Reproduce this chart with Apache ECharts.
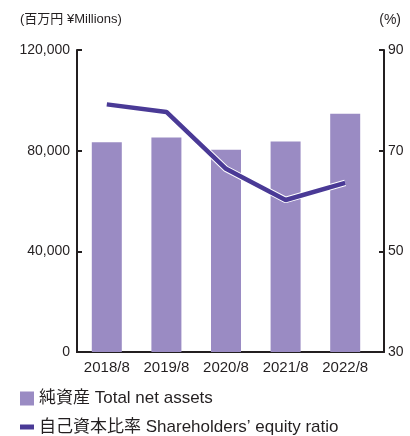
<!DOCTYPE html>
<html><head><meta charset="utf-8">
<script src="https://cdn.jsdelivr.net/npm/echarts@6/dist/echarts.min.js"></script>
<style>html,body{margin:0;padding:0;background:#fff}#c{width:410px;height:436px}</style>
</head><body><div id="c"></div>
<script>
const categories = ['2018/8','2019/8','2020/8','2021/8','2022/8'];
const netAssets = [83300, 85200, 80400, 83600, 94700];
const equityRatio = [79.2, 77.7, 66.4, 60.2, 63.6];
const leftTicks = [0, 40000, 80000, 120000];
const rightTicks = [30, 50, 70, 90];
const barName = '純資産 Total net assets';
const lineName = '自己資本比率 Shareholders’ equity ratio';

const FONT = '"Liberation Sans", "Noto Sans CJK JP", sans-serif';
const chart = echarts.init(document.getElementById('c'), null, {renderer:'canvas'});
const axisLine = {show:true, lineStyle:{color:'#231f20', width:2}};
const tick = {show:true, inside:true, length:5, lineStyle:{color:'#231f20', width:2}};
const legendText = {fontSize:17, color:'#231f20', fontFamily:FONT, lineHeight:18};
chart.setOption({
  animation:false,
  textStyle:{fontFamily:FONT},
  graphic:[
    {type:'text', left:20, top:13, style:{text:'(百万円 ¥Millions)', fontSize:13, fill:'#231f20', fontFamily:FONT}},
    {type:'text', right:9, top:13, style:{text:'(%)', fontSize:14, fill:'#231f20', fontFamily:FONT}}
  ],
  legend:[
    {left:20, top:389.5, padding:0, itemWidth:14, itemHeight:14, textStyle:legendText,
     data:[{name:barName, icon:'rect'}]},
    {left:20, top:418, padding:0, itemWidth:14, itemHeight:14, textStyle:legendText,
     data:[{name:lineName, icon:'path://M0,0h14v5h-14z'}]}
  ],
  grid:[
    {left:77, right:35, top:50, bottom:84},
    {left:77, right:26, top:50, bottom:84}
  ],
  xAxis:[
    {type:'category', gridIndex:0, data:categories, axisLine:{show:true, lineStyle:{color:'#231f20', width:2}},
     axisTick:{show:false}, axisLabel:{fontSize:15, color:'#231f20', margin:8, interval:0, fontFamily:FONT}},
    {type:'category', gridIndex:1, data:[''], axisLine:{show:true, lineStyle:{color:'#231f20', width:2}},
     axisTick:{show:false}, axisLabel:{show:false}}
  ],
  yAxis:[
    {type:'value', gridIndex:0, position:'left', min:leftTicks[0], max:leftTicks[leftTicks.length-1], interval:40000,
     axisLine:axisLine, axisTick:tick, splitLine:{show:false},
     axisLabel:{fontSize:14, color:'#231f20', margin:7, fontFamily:FONT,
       formatter:v=>v.toLocaleString('en-US')}},
    {type:'value', gridIndex:0, position:'right', offset:9, min:rightTicks[0], max:rightTicks[rightTicks.length-1], interval:20,
     axisLine:axisLine, axisTick:tick, splitLine:{show:false},
     axisLabel:{fontSize:14, color:'#231f20', margin:4, fontFamily:FONT}},
    {type:'value', gridIndex:1, show:false, min:0, max:1}
  ],
  series:[
    {name:barName, type:'bar', xAxisIndex:0, yAxisIndex:0, data:netAssets, barWidth:30,
     itemStyle:{color:'#9a8bc3'}},
    {name:'outline', type:'line', xAxisIndex:0, yAxisIndex:1, data:equityRatio, symbol:'none',
     lineStyle:{color:'#ffffff', width:6.5}, z:3, silent:true},
    {name:lineName, type:'line', xAxisIndex:0, yAxisIndex:1, data:equityRatio, symbol:'none',
     itemStyle:{color:'#4a3a96'},
     lineStyle:{color:'#4a3a96', width:4.5}, z:4}
  ]
});
</script></body></html>
